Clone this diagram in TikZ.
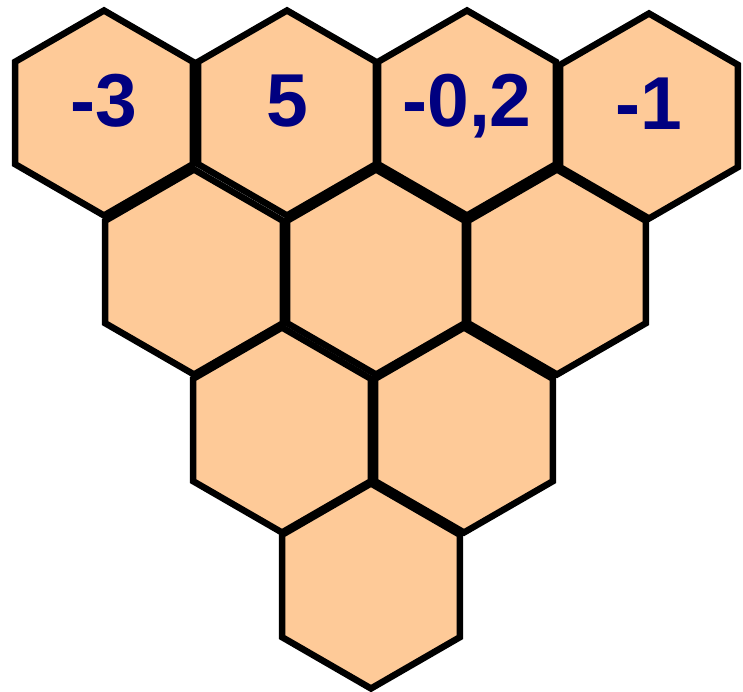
\documentclass[tikz,border=0pt]{standalone}
\usepackage{fontspec}
\setmainfont{Liberation Sans}
\usepackage{xcolor}
\usetikzlibrary{shapes.geometric}
\definecolor{wabe}{RGB}{254,202,152}
\definecolor{zahl}{RGB}{0,0,128}

\begin{document}
\begin{tikzpicture}[x=1pt,y=1pt,
    zelle/.style={regular polygon, regular polygon sides=6, shape border rotate=30,
      minimum size=205pt, inner sep=0pt, draw=black, fill=wabe, line width=6.5pt},
    wert/.style={anchor=base, text=zahl, font=\fontsize{75}{80}\selectfont\bfseries}]
  \useasboundingbox (0,0) rectangle (743,691);
  % oberste Reihe
  \node[zelle] (a1) at (104,578) {};
  \node[zelle] (a2) at (287,578) {};
  \node[zelle] (a3) at (467,578) {};
  \node[zelle] (a4) at (649,575) {};
  % zweite Reihe
  \node[zelle] (b1) at (194,419) {};
  \node[zelle] (b2) at (376,419) {};
  \node[zelle] (b3) at (557,419) {};
  % dritte Reihe
  \node[zelle] (c1) at (282,261) {};
  \node[zelle] (c2) at (464,261) {};
  % Spitze
  \node[zelle] (d1) at (371,105) {};
  % Zahlen
  \node[wert] (z1) at ([yshift=-14pt]a1.center) {-3};
  \node[wert] (z2) at ([yshift=-14pt]a2.center) {5};
  \node[wert] (z3) at ([yshift=-14pt]a3.center) {-0,2};
  \node[wert] (z4) at ([yshift=-14pt]a4.center) {-1};
\end{tikzpicture}
\end{document}
